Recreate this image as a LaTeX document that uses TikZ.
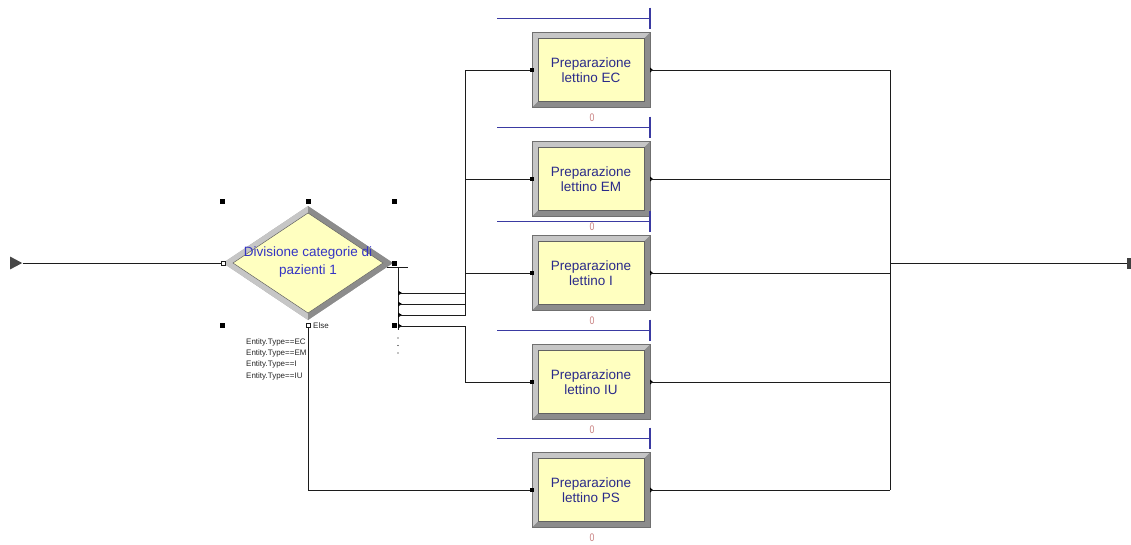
\documentclass[tikz,border=0pt]{standalone}
\usepackage{fontspec}
\setmainfont{Liberation Sans}
\usetikzlibrary{shapes.geometric,calc}

\definecolor{boxfill}{HTML}{FFFFC0}
\definecolor{frmlight}{HTML}{C6C6C6}
\definecolor{frmmid}{HTML}{A8A8A8}
\definecolor{frmdark}{HTML}{8C8C8C}
\definecolor{labnavy}{HTML}{2A2A8A}
\definecolor{labblue}{HTML}{3434C4}
\definecolor{queueblue}{HTML}{3A3AA2}
\definecolor{countrose}{HTML}{C88080}
\definecolor{wire}{HTML}{1C1C1C}

\tikzset{
  wire/.style={draw=wire, line width=1pt},
  queue/.style={draw=queueblue, line width=1.1pt},
  proclabel/.style={text=labnavy, font=\fontsize{13.5}{15}\selectfont, align=center,
                    inner sep=0, minimum width=118, minimum height=75},
  decisionlabel/.style={text=labblue, font=\fontsize{13.5}{18}\selectfont, align=center, inner sep=0},
  counter/.style={text=countrose, font=\fontsize{11}{11}\selectfont, inner sep=0, xscale=0.8},
  handle/.style={fill=black, draw=none, minimum size=5, inner sep=0},
  portmark/.style={fill=black, draw=none, minimum size=4, inner sep=0},
  openport/.style={draw=wire, fill=white, line width=0.6pt, minimum size=4, inner sep=0},
  condlabel/.style={font=\fontsize{8}{9}\selectfont, text=black!85, anchor=west, inner sep=0},
}

% bevelled process box: name, x, y, label
\newcommand\procbox[4]{%
  \fill[frmmid] (#2-59,#3-37.5) rectangle (#2+59,#3+37.5);
  \fill[frmlight] (#2-59,#3-37.5) -- (#2+59,#3-37.5) -- (#2+53,#3-31.5) -- (#2-53,#3-31.5) -- cycle;
  \fill[frmlight] (#2-59,#3-37.5) -- (#2-53,#3-31.5) -- (#2-53,#3+31.5) -- (#2-59,#3+37.5) -- cycle;
  \fill[frmdark] (#2+59,#3+37.5) -- (#2-59,#3+37.5) -- (#2-53,#3+31.5) -- (#2+53,#3+31.5) -- cycle;
  \fill[frmdark] (#2+59,#3+37.5) -- (#2+53,#3+31.5) -- (#2+53,#3-31.5) -- (#2+59,#3-37.5) -- cycle;
  \draw[fill=boxfill, draw=frmdark!70!black, line width=0.5pt] (#2-53,#3-31.5) rectangle (#2+53,#3+31.5);
  \draw[draw=frmdark!80!black, line width=0.5pt] (#2-59,#3-37.5) rectangle (#2+59,#3+37.5);
  \node[proclabel] (#1) at (#2,#3) {#4};
  % queue line with end tick
  \draw[queue] (#2-94,#3-51.5) -- (#2+59,#3-51.5);
  \draw[queue] (#2+59,#3-62.5) -- (#2+59,#3-41.5);
  % counter
  \node[counter] (#1-count) at (#2+1,#3+48) {0};
  % ports
  \node[portmark] (#1-in) at (#2-59,#3) {};
  \fill[black] (#2+59,#3-2.5) -- (#2+59,#3+2.5) -- (#2+62,#3) -- cycle;
}

\begin{document}
\begin{tikzpicture}[x=1pt,y=-1pt]
\useasboundingbox (0,0) rectangle (1131,544);

% ---- process boxes
\procbox{ec}{591}{70}{Preparazione\\lettino EC}
\procbox{em}{591}{179}{Preparazione\\lettino EM}
\procbox{ii}{591}{273}{Preparazione\\lettino I}
\procbox{iu}{591}{382}{Preparazione\\lettino IU}
\procbox{ps}{591}{490}{Preparazione\\lettino PS}

% ---- decision diamond
\fill[frmmid] (223,263) -- (308,206) -- (393,263) -- (308,320) -- cycle;
\fill[frmlight] (223,263) -- (308,206) -- (308,213) -- (233,263) -- cycle;
\fill[frmlight] (223,263) -- (233,263) -- (308,313) -- (308,320) -- cycle;
\fill[frmdark] (308,206) -- (393,263) -- (383,263) -- (308,213) -- cycle;
\fill[frmdark] (393,263) -- (308,320) -- (308,313) -- (383,263) -- cycle;
\draw[fill=boxfill, draw=frmdark!70!black, line width=0.5pt]
  (233,263) -- (308,213) -- (383,263) -- (308,313) -- cycle;
\node[decisionlabel] (dec) at (308,262) {Divisione categorie di\\pazienti 1};

% selection handles
\node[handle] (h1) at (222,201) {};
\node[handle] (h2) at (308,201) {};
\node[handle] (h3) at (394,201) {};
\node[handle] (h4) at (222,325) {};
\node[handle] (h5) at (394,325) {};

% ---- source and sink
\node[isosceles triangle, isosceles triangle apex angle=56, fill=black!72, draw=none,
      minimum height=12, minimum width=12, inner sep=0, anchor=west] (src) at (10,263) {};
\node[fill=black!75, draw=none, minimum width=4, minimum height=11, inner sep=0, anchor=east] (sink) at (1131,263) {};

% decision entry
\node[openport] (decin) at (223,263) {};
\draw[wire] (src.east) -- (decin.west);

% decision true exit: bar, spine and four exit points
\node[handle] (decout) at (394,263) {};
\coordinate (barL) at (387,267);
\coordinate (barR) at (408,267);
\coordinate (spineT) at (398,267);
\coordinate (spineB) at (398,330);
\draw[wire] (barL) -- (barR);
\draw[wire] (spineT) -- (spineB);

\coordinate (x1) at (399,293);
\coordinate (x2) at (399,304);
\coordinate (x3) at (399,315);
\coordinate (x4) at (399,326);
\foreach \c in {x1,x2,x3,x4}{
  \fill[black] ($(\c)+(-1,-2.5)$) -- ($(\c)+(3,0)$) -- ($(\c)+(-1,2.5)$) -- cycle;
}
\fill[black] (398,338) circle (0.7);
\fill[black] (398,345.5) circle (0.7);
\fill[black] (398,353) circle (0.7);

\coordinate (j1) at (465,70);
\coordinate (j2) at (465,179);
\coordinate (j3) at (465,273);
\coordinate (j4) at (465,382);
\draw[wire] (x1) -| (j1) -- (ec-in.west);
\draw[wire] (x2) -| (j2) -- (em-in.west);
\draw[wire] (x3) -| (j3) -- (ii-in.west);
\draw[wire] (x4) -| (j4) -- (iu-in.west);

% else exit
\node[openport] (elsept) at (308,325) {};
\node[condlabel] (elselab) at (313,325.5) {Else};
\draw[wire] (elsept.south) |- (ps-in.west);

% conditions
\node[condlabel] (c1) at (246,342) {Entity.Type==EC};
\node[condlabel] (c2) at (246,353) {Entity.Type==EM};
\node[condlabel] (c3) at (246,364.5) {Entity.Type==I};
\node[condlabel] (c4) at (246,376) {Entity.Type==IU};

% ---- merge on the right
\coordinate (r1) at (890,70);
\coordinate (r2) at (890,179);
\coordinate (r3) at (890,273);
\coordinate (r4) at (890,382);
\coordinate (r5) at (890,490);
\coordinate (rm) at (890,263);
\draw[wire] (ec.east) -- (r1);
\draw[wire] (em.east) -- (r2);
\draw[wire] (ii.east) -- (r3);
\draw[wire] (iu.east) -- (r4);
\draw[wire] (ps.east) -- (r5);
\draw[wire] (r1) -- (r5);
\draw[wire] (rm) -- (sink.west);
\end{tikzpicture}
\end{document}
